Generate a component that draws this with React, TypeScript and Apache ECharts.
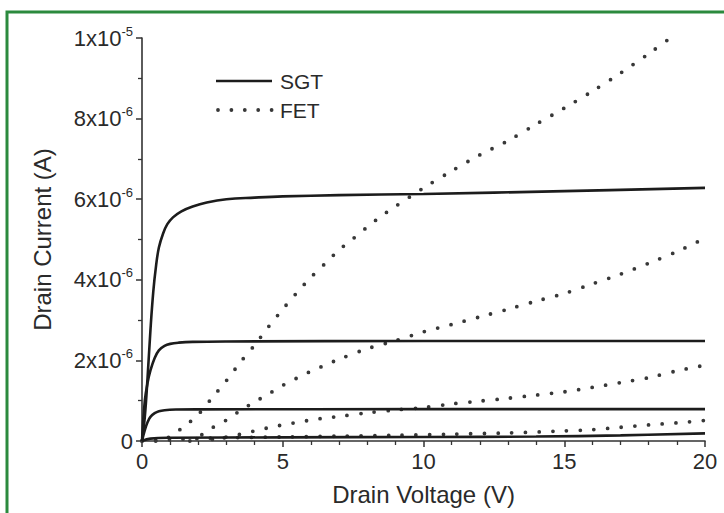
import React, { useEffect, useRef } from "react";
import * as echarts from "echarts";

// Drain current in units of 1e-6 A versus drain voltage (V)
const sgt1: [number, number][] = [[0,0],[0.1,0.6],[0.2,1.6],[0.3,2.75],[0.4,3.7],[0.5,4.35],[0.6,4.8],[0.75,5.15],[0.9,5.38],[1.1,5.55],[1.4,5.7],[1.8,5.82],[2.3,5.92],[3,6.0],[4,6.04],[5,6.07],[7,6.1],[10,6.13],[15,6.2],[20,6.28]];
const sgt2: [number, number][] = [[0,0],[0.1,1.0],[0.2,1.45],[0.3,1.75],[0.45,2.06],[0.6,2.25],[0.8,2.36],[1.0,2.41],[1.3,2.44],[1.8,2.46],[3,2.47],[10,2.48],[20,2.48]];
const sgt3: [number, number][] = [[0,0],[0.1,0.27],[0.2,0.47],[0.3,0.6],[0.45,0.69],[0.6,0.74],[0.8,0.765],[1.2,0.78],[2,0.785],[10,0.79],[20,0.79]];
const sgt4: [number, number][] = [[0,0],[0.3,0.06],[1,0.08],[5,0.09],[10,0.1],[14,0.11],[17,0.14],[20,0.19]];

const fet1: [number, number][] = [[0,0],[0.7,0],[1.0,0.12],[1.5,0.36],[2,0.66],[2.5,1.08],[3,1.5],[3.5,1.96],[4,2.38],[4.5,2.84],[5,3.27],[5.5,3.68],[6,4.06],[6.5,4.4],[7,4.74],[7.5,5.02],[8,5.31],[8.5,5.58],[9,5.82],[9.5,6.05],[10,6.28],[11,6.7],[12,7.1],[13,7.45],[14,7.86],[15,8.26],[16,8.68],[17,9.13],[18,9.61],[19,10.12],[20,10.65]];
const fet2: [number, number][] = [[1.7,0],[2,0.1],[2.5,0.33],[3,0.52],[3.5,0.76],[4,0.97],[4.5,1.17],[5,1.38],[5.5,1.56],[6,1.73],[6.5,1.88],[7,2.03],[8,2.29],[9,2.49],[10,2.71],[11,2.89],[12,3.08],[13,3.27],[14,3.47],[15,3.66],[16,3.9],[17,4.14],[18,4.41],[19,4.7],[20,5.03]];
const fet3: [number, number][] = [[2.5,0.04],[3,0.1],[3.5,0.17],[4,0.25],[4.5,0.33],[5,0.4],[5.5,0.46],[6,0.52],[6.5,0.57],[7,0.61],[8,0.7],[9,0.77],[10,0.83],[11,0.92],[12,0.99],[13,1.06],[14,1.14],[15,1.22],[16,1.33],[17,1.45],[18,1.57],[19,1.74],[20,1.88]];
const fet4: [number, number][] = [[0,0],[1,0.03],[2,0.06],[3,0.08],[5,0.1],[7,0.12],[9,0.14],[11,0.17],[13,0.2],[15,0.25],[16,0.28],[17,0.34],[18,0.4],[19,0.45],[20,0.51]];

const yTickLabels: Record<number, [string, string]> = {
  0: ["0", ""],
  2: ["2x10", "-6"],
  4: ["4x10", "-6"],
  6: ["6x10", "-6"],
  8: ["8x10", "-6"],
  10: ["1x10", "-5"],
};
const legendNames = ["SGT", "FET"];
const xName = "Drain Voltage (V)";
const yName = "Drain Current (A)";

const FONT = "Liberation Sans, Arial, sans-serif";
const TXT = "#2a2a2a";

export default function App() {
  const ref = useRef<HTMLDivElement>(null);
  useEffect(() => {
    if (!ref.current) return;
    const chart = echarts.init(ref.current, undefined, { renderer: "svg" });
    const solid = (d: [number, number][]) => ({
      type: "line",
      data: d,
      showSymbol: false,
      smooth: 0.4,
      lineStyle: { color: "#1c1c1c", width: 2.6 },
      z: 3,
    });
    const dotted = (d: [number, number][]) => ({
      type: "line",
      data: d,
      showSymbol: false,
      smooth: 0.3,
      lineStyle: { color: "#383838", width: 3.8, type: [0, 13.7], cap: "round" },
      z: 2,
    });
    chart.setOption({
      animation: false,
      backgroundColor: "#ffffff",
      grid: { left: 142, right: 19, top: 38, bottom: 72, containLabel: false },
      xAxis: {
        type: "value",
        min: 0,
        max: 20,
        interval: 5,
        name: xName,
        nameLocation: "middle",
        nameGap: 41,
        nameTextStyle: { fontFamily: FONT, fontSize: 24, color: TXT },
        axisLine: { lineStyle: { color: "#333", width: 1.6 } },
        axisTick: { show: true, inside: false, length: 6, lineStyle: { color: "#333", width: 1.5 } },
        minorTick: { show: true, splitNumber: 5, length: 4, lineStyle: { color: "#333", width: 1.3 } },
        splitLine: { show: false },
        axisLabel: { fontFamily: FONT, fontSize: 22, color: TXT, margin: 9 },
      },
      yAxis: {
        type: "value",
        min: 0,
        max: 10,
        interval: 2,
        name: yName,
        nameLocation: "middle",
        nameGap: 88,
        nameTextStyle: { fontFamily: FONT, fontSize: 24, color: TXT },
        axisLine: { lineStyle: { color: "#333", width: 1.6 } },
        axisTick: { show: true, inside: false, length: 6, lineStyle: { color: "#333", width: 1.5 } },
        minorTick: { show: true, splitNumber: 2, length: 4, lineStyle: { color: "#333", width: 1.3 } },
        splitLine: { show: false },
        axisLabel: {
          margin: 9,
          formatter: (v: number) => {
            const t = yTickLabels[Math.round(v)];
            if (!t) return "";
            return t[1] ? `{b|${t[0]}}{s|${t[1]}}` : `{b|${t[0]}}`;
          },
          rich: {
            b: { fontFamily: FONT, fontSize: 22, color: TXT },
            s: { fontFamily: FONT, fontSize: 13, color: TXT, padding: [0, 0, 14, 0] },
          },
        },
      },
      series: [
        solid(sgt1), solid(sgt2), solid(sgt3), solid(sgt4),
        dotted(fet1), dotted(fet2), dotted(fet3), dotted(fet4),
      ],
      graphic: [
        { type: "line", shape: { x1: 216, y1: 81, x2: 272, y2: 81 }, style: { stroke: "#1c1c1c", lineWidth: 2.6 }, silent: true },
        { type: "text", x: 280, y: 81, style: { text: legendNames[0], fontFamily: FONT, fontSize: 21, fill: TXT, verticalAlign: "middle" }, silent: true },
        { type: "line", shape: { x1: 218, y1: 110, x2: 273, y2: 110 }, style: { stroke: "#383838", lineWidth: 3.8, lineDash: [0, 13.4], lineCap: "round" }, silent: true },
        { type: "text", x: 280, y: 110, style: { text: legendNames[1], fontFamily: FONT, fontSize: 21, fill: TXT, verticalAlign: "middle" }, silent: true },
        { type: "rect", shape: { x: 7, y: 12, width: 780, height: 560 }, style: { fill: "none", stroke: "#2b8a3e", lineWidth: 3 }, silent: true, z: 100 },
      ],
    });
    return () => chart.dispose();
  }, []);
  return <div ref={ref} style={{ position: "fixed", left: 0, top: 0, width: 724, height: 513 }} />;
}
